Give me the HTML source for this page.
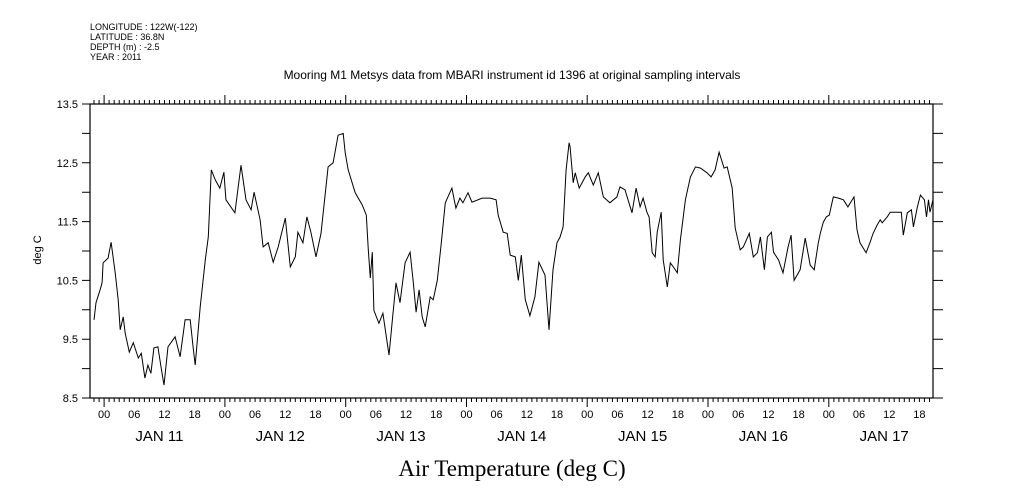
<!DOCTYPE html>
<html><head><meta charset="utf-8"><style>
html,body{margin:0;padding:0;background:#fff;}
svg{display:block;}
text{font-family:"Liberation Sans",sans-serif;fill:#000;}
</style></head><body>
<svg id="chart" width="1009" height="504" viewBox="0 0 1009 504" xmlns="http://www.w3.org/2000/svg">
<g font-size="9">
<text x="90" y="30">LONGITUDE : 122W(-122)</text>
<text x="90" y="40">LATITUDE : 36.8N</text>
<text x="90" y="50">DEPTH (m) : -2.5</text>
<text x="90" y="60">YEAR : 2011</text>
</g>
<text x="512" y="79" text-anchor="middle" font-size="12">Mooring M1 Metsys data from MBARI instrument id 1396 at original sampling intervals</text>
<text x="512" y="476" text-anchor="middle" font-size="23" style="font-family:'Liberation Serif',serif">Air Temperature (deg C)</text>
<text transform="translate(41,250) rotate(-90)" text-anchor="middle" font-size="11">deg C</text>
<g id="axes"></g>
<path id="series" fill="none" stroke="#000" stroke-width="1"/>
</svg>
<script>
const hours=[-2.0,-1.6,-0.8,-0.4,-0.2,0.8,1.4,2.2,2.8,3.2,3.8,4.2,5.0,5.8,6.8,7.4,8.1,8.7,9.3,9.9,10.7,11.3,11.9,12.7,14.1,15.1,16.1,17.1,17.7,18.1,19.1,20.1,20.7,21.3,22.1,23.0,23.8,24.2,26.0,27.2,28.2,29.2,29.8,31.0,31.6,32.6,33.6,34.6,36.0,37.0,38.0,38.5,39.5,40.3,41.1,42.1,43.1,44.5,45.5,46.5,47.5,47.9,48.5,49.9,51.3,52.1,52.5,52.9,53.3,53.6,54.6,55.4,56.6,57.4,58.0,58.8,59.8,60.8,61.4,62.0,62.6,63.2,63.8,64.8,65.4,66.2,67.0,67.8,69.1,69.9,70.7,71.3,72.3,73.1,75.1,76.7,77.9,78.3,79.3,80.1,80.7,81.7,82.3,82.9,83.7,84.6,85.6,86.4,87.6,88.4,89.2,90.0,90.6,91.2,91.8,92.4,92.6,93.2,93.6,94.4,95.6,96.2,97.2,98.2,99.2,100.5,101.9,102.5,103.5,104.9,105.7,106.5,107.1,107.9,108.3,108.9,109.5,109.9,110.7,111.1,111.9,112.5,113.1,113.9,114.5,115.5,116.5,117.5,118.5,119.8,120.6,121.4,122.2,123.2,123.8,124.8,125.4,126.4,127.0,128.2,129.0,129.8,130.4,131.2,131.8,132.6,133.0,134.0,134.9,135.9,136.5,137.1,138.3,139.3,140.3,141.1,141.9,142.3,142.9,143.5,144.1,144.9,145.9,146.9,147.8,149.0,149.6,150.2,151.4,152.2,152.8,153.6,154.2,154.6,155.6,156.2,157.2,158.4,158.8,159.6,160.4,160.8,161.6,162.2,163.0,163.4,163.8,164.1,164.7];
const temps=[9.83,10.12,10.34,10.46,10.8,10.88,11.15,10.63,10.17,9.66,9.88,9.6,9.28,9.44,9.18,9.26,8.84,9.06,8.92,9.35,9.37,9.03,8.72,9.37,9.54,9.2,9.83,9.83,9.35,9.06,10.05,10.85,11.24,12.38,12.21,12.07,12.34,11.87,11.65,12.46,11.87,11.7,12.0,11.53,11.07,11.14,10.81,11.07,11.56,10.73,10.9,11.32,11.14,11.58,11.32,10.9,11.3,12.43,12.5,12.97,13.0,12.67,12.38,11.99,11.78,11.61,11.02,10.54,10.98,9.99,9.77,9.94,9.23,9.94,10.46,10.12,10.8,10.98,10.5,9.96,10.34,9.88,9.71,10.22,10.17,10.5,11.14,11.82,12.07,11.73,11.9,11.82,11.99,11.83,11.9,11.9,11.87,11.61,11.32,11.3,10.93,10.9,10.5,10.93,10.17,9.9,10.22,10.81,10.59,9.66,10.68,11.14,11.24,11.41,12.38,12.84,12.77,12.16,12.33,12.07,12.26,12.33,12.12,12.33,11.92,11.82,11.92,12.09,12.04,11.65,12.07,11.75,11.9,11.65,11.58,10.97,10.9,11.32,11.66,10.85,10.39,10.8,10.73,10.63,11.19,11.87,12.26,12.43,12.41,12.33,12.26,12.38,12.68,12.41,12.43,12.07,11.39,11.02,11.07,11.3,10.9,10.97,11.24,10.68,11.24,11.32,10.98,10.85,10.63,11.07,11.27,10.5,10.68,11.22,10.76,10.68,11.14,11.3,11.49,11.58,11.61,11.92,11.9,11.87,11.75,11.92,11.36,11.14,10.97,11.15,11.3,11.44,11.53,11.48,11.58,11.66,11.66,11.66,11.27,11.65,11.7,11.41,11.75,11.95,11.87,11.58,11.87,11.66,11.87];
const yTicks=[8.5,9.0,9.5,10.0,10.5,11.0,11.5,12.0,12.5,13.0,13.5];
const yLabels=["8.5","9.5","10.5","11.5","12.5","13.5"];
const dayLabels=["JAN 11","JAN 12","JAN 13","JAN 14","JAN 15","JAN 16","JAN 17"];
const hourLabels=["00","06","12","18"];

const L=90,R=933,T=104,B=398,H0=-2.8,H1=164.7,V0=8.5,V1=13.5;
function xs(h){return L+(h-H0)/(H1-H0)*(R-L);}
function ys(v){return B-(v-V0)/(V1-V0)*(B-T);}
const NS="http://www.w3.org/2000/svg";
const ax=document.getElementById('axes');
function mk(tag,attrs,parent){const e=document.createElementNS(NS,tag);for(const k in attrs)e.setAttribute(k,attrs[k]);(parent||ax).appendChild(e);return e;}
let frame=mk('rect',{x:L,y:T,width:R-L,height:B-T,fill:'none',stroke:'#000','stroke-width':1.2});


let tp='';
for(let h=Math.ceil(H0);h<=H1;h++){
  const x=xs(h).toFixed(1);const major=((h%24)+24)%24===0;
  tp+=`M${x},${T}V${T-(major?9:4)}M${x},${B}V${B+(major?9:4)}`;
}
yTicks.forEach(v=>{const y=ys(v).toFixed(1);tp+=`M${L-8},${y}H${L}M${R},${y}H${R+10}`;});
let ticks=mk('path',{d:tp,stroke:'#000','stroke-width':1,fill:'none'});


yLabels.forEach(s=>{
  const t=mk('text',{x:L-12,y:ys(parseFloat(s))+4,'text-anchor':'end','font-size':11});
  t.textContent=s;
  
  
});
for(let d=0;d<dayLabels.length;d++){
  for(let k=0;k<4;k++){
    const h=d*24+k*6; if(h>H1)continue;
    const t=mk('text',{x:xs(h),y:418,'text-anchor':'middle','font-size':11});
    t.textContent=hourLabels[k];
    
    
  }
  const t=mk('text',{x:xs(d*24+11),y:441,'text-anchor':'middle','font-size':15});
  t.textContent=dayLabels[d];
  
  
}
let d='';
hours.forEach((h,i)=>{d+=(i?'L':'M')+xs(h).toFixed(1)+','+ys(temps[i]).toFixed(1);});
document.getElementById('series').setAttribute('d',d);
</script>
</body></html>
